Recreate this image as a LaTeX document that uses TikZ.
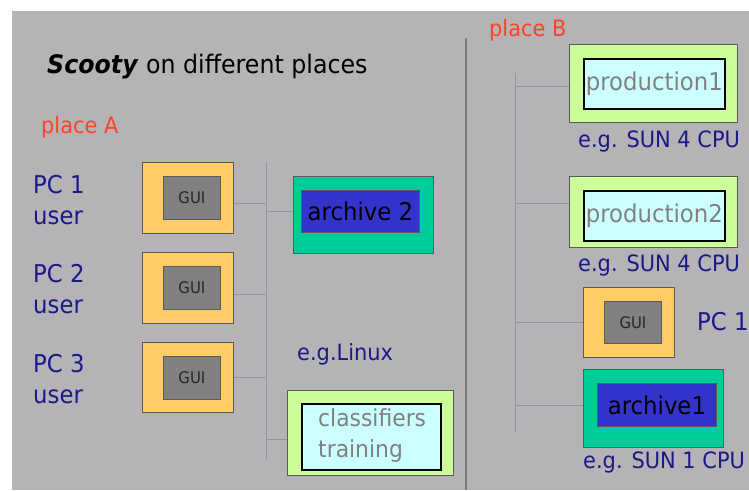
\documentclass[tikz,border=0pt]{standalone}
\usepackage{fontspec}
\setmainfont[FakeStretch=0.93]{DejaVu Sans}
\definecolor{bggray}{RGB}{181,179,182}
\definecolor{guiyellow}{RGB}{255,204,102}
\definecolor{guigray}{RGB}{128,128,128}
\definecolor{archteal}{RGB}{0,204,153}
\definecolor{archblue}{RGB}{51,51,204}
\definecolor{lgreen}{RGB}{204,255,153}
\definecolor{lcyan}{RGB}{204,255,255}
\definecolor{navytext}{RGB}{25,25,135}
\definecolor{redtext}{RGB}{255,68,34}
\definecolor{busgray}{RGB}{150,148,152}
\definecolor{boxline}{RGB}{90,90,90}
\definecolor{divgray}{RGB}{125,125,127}
\definecolor{graytext}{RGB}{128,128,128}
\begin{document}
\begin{tikzpicture}[x=1pt,y=-1pt,
  boxo/.style={draw=boxline, line width=0.8pt, inner sep=0pt, anchor=north west},
  boxi/.style={draw=boxline, line width=0.8pt, inner sep=0pt, anchor=north west},
  boxk/.style={draw=black, line width=1.6pt, inner sep=0pt, anchor=north west, fill=lcyan},
  bus/.style={draw=busgray, line width=0.9pt},
  navy/.style={text=navytext, inner sep=0pt},
  placelbl/.style={text=redtext, inner sep=0pt, font=\fontsize{22.5}{26}\selectfont},
  pclbl/.style={navy, font=\fontsize{24.5}{31}\selectfont, align=left, anchor=west},
  eglbl/.style={navy, font=\fontsize{22.5}{26}\selectfont, anchor=west},
  guitxt/.style={font=\fontsize{16}{18}\selectfont, text=black!85},
  bigtxt/.style={font=\fontsize{24.5}{28}\selectfont},
]
\useasboundingbox (0,0) rectangle (749,490);
\fill[bggray] (12,11) rectangle (749,490);
% divider
\draw[divgray, line width=1.8pt] (466,38) -- (466,490);

% title
\node[anchor=west, inner sep=0pt, font=\fontsize{25.5}{30}\selectfont] (title) at (47,67) {\textbf{\textit{Scooty}} on different places};
\node[placelbl, anchor=west] (placeA) at (41,127) {place A};
\node[placelbl, anchor=west] (placeB) at (489,30) {place B};

% PC labels
\node[pclbl] (pc1) at (33,200) {PC 1\\user};
\node[pclbl] (pc2) at (33,289) {PC 2\\user};
\node[pclbl] (pc3) at (33,379) {PC 3\\user};

% GUI boxes left
\node[boxo, fill=guiyellow, minimum width=91pt, minimum height=71pt] (g1o) at (142,162) {};
\node[boxi, fill=guigray, minimum width=57pt, minimum height=43pt, guitxt] (g1) at (163,176) {GUI};
\node[boxo, fill=guiyellow, minimum width=91pt, minimum height=71pt] (g2o) at (142,252) {};
\node[boxi, fill=guigray, minimum width=57pt, minimum height=43pt, guitxt] (g2) at (163,266) {GUI};
\node[boxo, fill=guiyellow, minimum width=91pt, minimum height=70pt] (g3o) at (142,342) {};
\node[boxi, fill=guigray, minimum width=57pt, minimum height=43pt, guitxt] (g3) at (163,356) {GUI};

% archive 2
\node[boxo, fill=archteal, minimum width=140pt, minimum height=77pt] (a2o) at (293,176) {};
\node[boxi, fill=archblue, minimum width=118pt, minimum height=42pt, bigtxt] (a2) at (301,190) {archive 2};

\node[eglbl] (linux) at (297,354) {e.g.Linux};

% classifiers training
\node[boxo, fill=lgreen, minimum width=166pt, minimum height=85pt] (clo) at (287,390) {};
\node[boxk, minimum width=139pt, minimum height=66pt] (cl) at (301,403) {};
\node[anchor=west, inner sep=0pt, text=graytext, align=left, font=\fontsize{23.5}{31}\selectfont] (cltxt) at (318,436) {classifiers\\training};

% right side
\node[boxo, fill=lgreen, minimum width=168pt, minimum height=78pt] (p1o) at (569,44) {};
\node[boxk, minimum width=141pt, minimum height=50pt, text=graytext, bigtxt] (p1) at (583,58) {production1};
\node[eglbl] (eg1) at (578,141) {e.g. SUN 4 CPU};

\node[boxo, fill=lgreen, minimum width=168pt, minimum height=71pt] (p2o) at (569,176) {};
\node[boxk, minimum width=141pt, minimum height=50pt, text=graytext, bigtxt] (p2) at (583,190) {production2};
\node[eglbl] (eg2) at (578,265) {e.g. SUN 4 CPU};

\node[boxo, fill=guiyellow, minimum width=91pt, minimum height=70pt] (g4o) at (583,287) {};
\node[boxi, fill=guigray, minimum width=57pt, minimum height=42pt, guitxt] (g4) at (604,301) {GUI};
\node[pclbl] (pc1r) at (697,322) {PC 1};

\node[boxo, fill=archteal, minimum width=140pt, minimum height=78pt] (a1o) at (583,369) {};
\node[boxi, fill=archblue, minimum width=119pt, minimum height=43pt, bigtxt] (a1) at (597,383) {archive1};
\node[eglbl] (eg3) at (583,462) {e.g. SUN 1 CPU};

% left bus
\coordinate (busAt) at (266,162);
\coordinate (busAb) at (266,460);
\draw[bus] (busAt) -- (busAb);
\draw[bus] ([yshift=-5.5pt]g1o.east) -- ([yshift=-5.5pt]g1o.east -| busAt);
\draw[bus] ([yshift=-6.5pt]g2o.east) -- ([yshift=-6.5pt]g2o.east -| busAt);
\draw[bus] (g3o.east) -- (g3o.east -| busAt);
\draw[bus] ([yshift=3.5pt]a2o.west -| busAt) -- ([yshift=3.5pt]a2o.west);
\draw[bus] ([yshift=-6.5pt]clo.west -| busAt) -- ([yshift=-6.5pt]clo.west);

% right bus
\coordinate (busBt) at (515,73);
\coordinate (busBb) at (515,432);
\draw[bus] (busBt) -- (busBb);
\draw[bus] ([yshift=-3pt]p1o.west -| busBt) -- ([yshift=-3pt]p1o.west);
\draw[bus] ([yshift=8.5pt]p2o.west -| busBt) -- ([yshift=8.5pt]p2o.west);
\draw[bus] (g4o.west -| busBt) -- (g4o.west);
\draw[bus] ([yshift=3pt]a1o.west -| busBt) -- ([yshift=3pt]a1o.west);
\end{tikzpicture}
\end{document}
